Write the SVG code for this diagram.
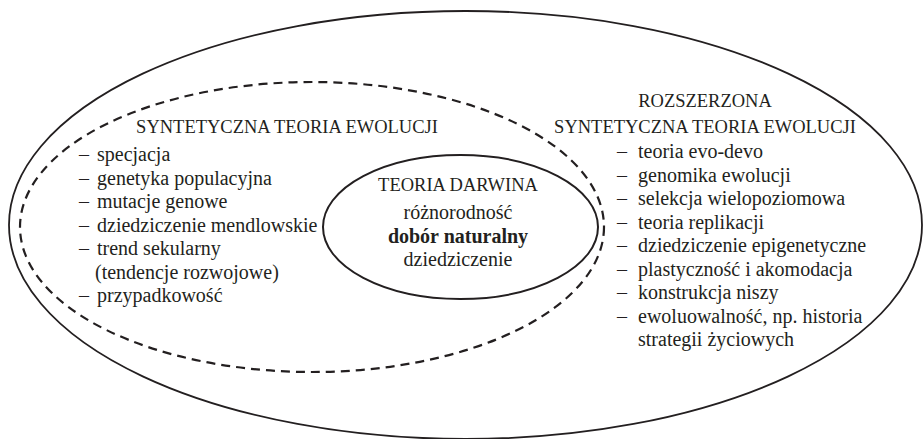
<svg xmlns="http://www.w3.org/2000/svg" width="923" height="439" viewBox="0 0 923 439">
<style>
.t{font-size:18.5px;text-anchor:middle}
.i{font-size:20px}
.c{font-size:20px;text-anchor:middle}
.b{font-weight:bold}
.solid{fill:none;stroke:#231f20;stroke-width:1.8}
.dash{fill:none;stroke:#231f20;stroke-width:2.2;stroke-dasharray:9 6}
</style>
<rect width="923" height="439" fill="#fff"/>
<g font-family="Liberation Serif, Tinos, Times New Roman, serif" fill="#231f20">
<g id="rozszerzona">
<ellipse class="solid" cx="465.5" cy="225" rx="456.5" ry="214"/>
<text class="t" x="705" y="107">ROZSZERZONA</text>
<text class="t" x="705" y="133">SYNTETYCZNA TEORIA EWOLUCJI</text>
<g class="i">
<text x="617" y="158">–</text><text x="638" y="158">teoria evo-devo</text>
<text x="617" y="181.5">–</text><text x="638" y="181.5">genomika ewolucji</text>
<text x="617" y="205">–</text><text x="638" y="205">selekcja wielopoziomowa</text>
<text x="617" y="228.5">–</text><text x="638" y="228.5">teoria replikacji</text>
<text x="617" y="252">–</text><text x="638" y="252">dziedziczenie epigenetyczne</text>
<text x="617" y="275.5">–</text><text x="638" y="275.5">plastyczność i akomodacja</text>
<text x="617" y="299">–</text><text x="638" y="299">konstrukcja niszy</text>
<text x="617" y="322.5">–</text><text x="638" y="322.5">ewoluowalność, np. historia</text>
<text x="638" y="346">strategii życiowych</text>
</g>
</g>
<g id="syntetyczna">
<ellipse class="dash" cx="312" cy="227" rx="292" ry="145"/>
<text class="t" x="287" y="133">SYNTETYCZNA TEORIA EWOLUCJI</text>
<g class="i">
<text x="79" y="161">–</text><text x="97" y="161">specjacja</text>
<text x="79" y="184.5">–</text><text x="97" y="184.5">genetyka populacyjna</text>
<text x="79" y="208">–</text><text x="97" y="208">mutacje genowe</text>
<text x="79" y="231.5">–</text><text x="97" y="231.5">dziedziczenie mendlowskie</text>
<text x="79" y="255">–</text><text x="97" y="255">trend sekularny</text>
<text x="95" y="278.5">(tendencje rozwojowe)</text>
<text x="79" y="302">–</text><text x="97" y="302">przypadkowość</text>
</g>
</g>
<g id="darwin">
<ellipse cx="460.5" cy="227" rx="137.5" ry="72" fill="#fff" stroke="#231f20" stroke-width="2"/>
<text class="t" x="458" y="191">TEORIA DARWINA</text>
<text class="c" x="458" y="219">różnorodność</text>
<text class="c b" x="458" y="242.5">dobór naturalny</text>
<text class="c" x="458" y="266">dziedziczenie</text>
</g>
</g>
<g id="connectors"/>
</svg>
